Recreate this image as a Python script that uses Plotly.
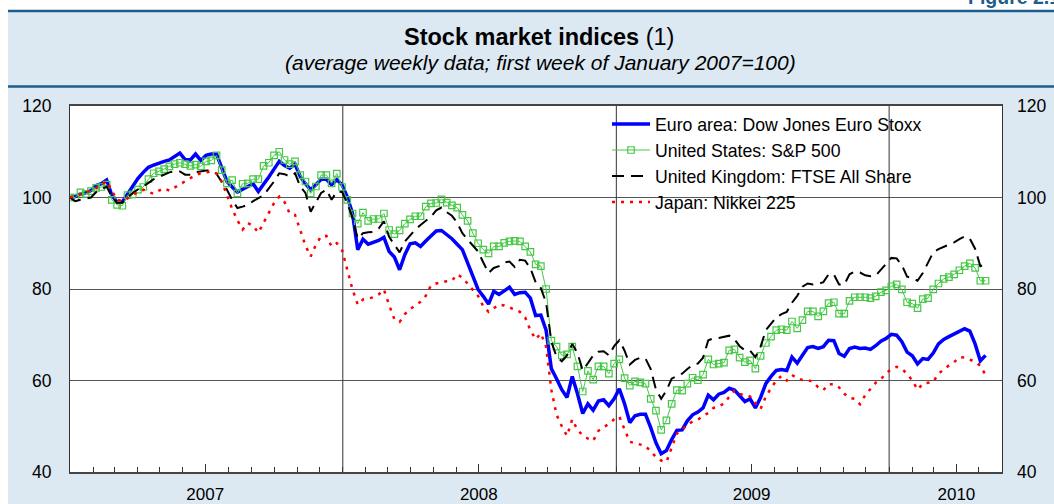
import pandas as pd
import plotly.graph_objects as go

# ---------------- data ----------------
start_date = "2007-01-01"   # first week of January 2007 = 100
n_weeks = 176

euro_stoxx = [
    100, 100.2, 100.8, 101, 101.5, 102.6, 103, 103.8, 100.5, 99,
    99, 100.8, 102.5, 104.2, 105.5, 106.6, 107.1, 107.6, 107.9, 108.2,
    108.9, 109.7, 108.3, 108.2, 109.5, 108.1, 109.2, 109.5, 109.5, 106.4,
    103.5, 102.3, 101.2, 101.8, 102.5, 103, 101.3, 102.8, 104.5, 106.2,
    107.9, 107, 106.4, 107.3, 104.6, 103, 101.7, 102.8, 104, 104,
    102.8, 103.9, 102.8, 100.1, 96.5, 88.6, 90.9, 89.8, 90.2, 90.6,
    91.3, 88.2, 87, 84.2, 87.5, 89.9, 90.1, 89.3, 90.5, 91.7,
    92.7, 92.8, 92, 91, 89.8, 88.6, 85.7, 82.8, 79.9, 78.4,
    76.7, 79.5, 78.8, 79.6, 80.4, 78.8, 79.2, 79.3, 78, 74.2,
    74.3, 71, 62.6, 60.4, 58, 56.3, 60.9, 57.1, 52.8, 54.9,
    53.5, 55.5, 55.8, 54.5, 56, 58.2, 54.9, 50.8, 52.3, 52.6,
    52.6, 49.7, 46.4, 44, 44.7, 47.1, 49.1, 49.2, 51.2, 52.5,
    53.1, 54, 56.8, 55.8, 57, 57.4, 58.3, 57.9, 56.5, 55.4,
    56, 54, 56.3, 59.3, 60.9, 62.2, 62.4, 62.2, 65.1, 63.8,
    65.5, 67.2, 67.4, 67, 67.4, 68.8, 68.7, 65.9, 65.3, 67,
    67.3, 67, 67.1, 66.8, 67.6, 68.6, 69.2, 70.1, 69.9, 68.5,
    66.2, 65.4, 63.6, 64.8, 64.6, 66, 68, 69, 69.6, 70.1,
    70.8, 71.3, 70.8, 68, 64.3, 65.5,
]

sp500 = [
    100, 100, 101.1, 100.8, 101.4, 102.1, 102.3, 102.8, 99.5, 98.4,
    98.2, 100.5, 100.7, 101.7, 102.3, 104, 105.3, 105.7, 106.2, 106.8,
    107.3, 107.6, 107.3, 106.9, 107.2, 106.8, 107.9, 108.1, 109.2, 106,
    103.1, 103.8, 100.9, 103, 103.1, 104, 104, 106.9, 107.6, 109.2,
    110, 108.2, 107.3, 107.9, 104.9, 103.5, 100.9, 102.4, 104.9, 104.9,
    103.1, 105.2, 102.3, 99.5, 96.5, 94.3, 96.7, 94.9, 95.3, 95.3,
    96.5, 92.9, 92, 92.8, 94.3, 95.2, 95.9, 95.9, 98, 98.7,
    98.8, 99.6, 98.9, 98.3, 97.8, 96.2, 94.9, 92.2, 90, 88.6,
    87.8, 89.3, 89.3, 90.1, 90.4, 90.5, 90.4, 89.3, 88.1, 85.4,
    85, 80, 68.7, 67.4, 65.5, 65.7, 67.4, 63.1, 57.6, 62.1,
    60.2, 63.1, 63.1, 61.5, 63.7, 64.6, 60.5, 58.9, 59.8, 59.6,
    59.3, 56, 53.4, 49.2, 51.3, 54.9, 57.9, 57.8, 59.3, 60.6,
    60.1, 61.3, 64.6, 63.5, 63.7, 63.9, 66.6, 66.8, 65, 64,
    64.4, 62.6, 65.4, 68.2, 69.6, 71, 71.2, 71, 72.9, 71.4,
    73.2, 75.1, 75.1, 74, 75.1, 76.9, 77.1, 74.6, 74.6, 77.4,
    78.2, 78.2, 78.2, 78, 78.4, 79.3, 79.7, 80.6, 81, 79.9,
    77.1, 76.8, 75.8, 77.8, 78, 79.9, 81.2, 82.2, 82.6, 83.2,
    84.1, 85, 85.6, 84.6, 81.8, 81.8,
]

ftse_all_share = [
    100, 99.2, 99.5, 99.8, 100, 101.2, 101.8, 102.4, 100.2, 98.8,
    98.9, 100, 101, 101.8, 102.4, 103.2, 104, 104.5, 105, 105.5,
    105.7, 105.7, 105, 105, 105.5, 105.7, 105.9, 105.9, 105.2, 103.4,
    101.7, 99.5, 97.7, 98, 98.4, 99.2, 99.9, 100.5, 102, 103.5,
    105.3, 105.1, 104.6, 105.3, 102.4, 101, 96.9, 98.8, 101, 101.7,
    99.5, 101.3, 101.2, 98.8, 95.5, 91, 92.2, 92.4, 92.5, 93.2,
    94.8, 91.4, 89.8, 88, 90.4, 91.8, 93, 94, 95, 95.8,
    97.2, 97.8, 96.8, 96, 94.5, 92.2, 90.8, 89.5, 88.2, 85.8,
    83.5, 84.6, 85, 85.8, 86, 84.8, 86.4, 86.2, 84.5, 81.5,
    80.2, 77, 68.5, 65.2, 64.2, 65.5, 68, 66, 62.2, 63.8,
    65.5, 66.3, 66.4, 65.5, 67.5, 68.8, 66.5, 63.5, 64.5, 65,
    64.8, 62.5, 58, 56, 57.8, 60.4, 61, 61.5, 62.5, 63.4,
    63.7, 65, 68.8, 69.2, 69.3, 69.6, 69.8, 69, 67.5, 66.6,
    66.5, 65.1, 67.4, 71, 72.4, 73.8, 74.5, 75, 77, 78.5,
    80.5, 81.2, 81, 81.1, 81.5, 83.2, 83.2, 81, 81, 83.2,
    83.8, 83.6, 83, 82.8, 82.9, 84.3, 85.5, 86.8, 86.7, 85.2,
    82.7, 82.4, 81.8, 83.5, 85.8, 88, 88.7, 89.2, 89.6, 90.2,
    90.9, 91.5, 91, 88.8, 85, 85.4,
]

nikkei_225 = [
    100, 100.3, 100.6, 101, 101.6, 102, 102.8, 103.6, 101.5, 99.5,
    99.2, 99.8, 100.6, 101.2, 101.7, 101.2, 100.8, 101.5, 102, 101.5,
    102.2, 102.8, 103.6, 104.2, 104.9, 105.3, 105.5, 105.7, 105.3, 103.5,
    100.5, 97.5, 95, 93, 94.4, 93.8, 92.3, 94.4, 96.5, 98.8,
    100.2, 99, 96.5, 96.2, 92.9, 89.5, 87.1, 89.7, 91.5, 91.6,
    89.3, 90, 88.5, 84.2, 79.9, 76.6, 77.7, 77.9, 78.2, 78.8,
    79.9, 76.5, 73.4, 72.8, 74.5, 75.6, 76.5, 77.2, 78.5, 80.8,
    81.2, 81.5, 81.7, 81.8, 83.2, 82.5, 81.2, 79.8, 78.5, 76.2,
    75, 75.8, 76.6, 76.4, 76, 75.5, 75, 73.8, 71, 69,
    70.3, 67.4, 58, 52.5, 50, 47.9, 51.5, 49.2, 48, 47.3,
    46.8, 49, 49.8, 50.5, 51.5, 52.1, 49.3, 46.6, 46.3, 46,
    45.7, 44.5, 43.3, 42.5, 42.2, 45.3, 48.4, 49.2, 50.4, 51,
    51.4, 52.3, 52.9, 54, 54.3, 55, 56.5, 57.8, 57, 56.9,
    56.5, 55, 53.8, 56.5, 58.3, 60, 61, 60, 61.2, 60.5,
    60.1, 60.1, 59.7, 58.5, 57.9, 59.2, 59.2, 58.5, 57.1, 56.2,
    56, 54.8, 56.8, 58.2, 59.5, 60.3, 61.6, 62.5, 63, 62.5,
    61.5, 60, 58, 59.3, 59.5, 59.7, 61.5, 62.5, 63.3, 64,
    65.1, 65, 64.6, 64.1, 63.2, 61.2,
]

series_names = [
    "Euro area: Dow Jones Euro Stoxx",
    "United States: S&P 500",
    "United Kingdom: FTSE All Share",
    "Japan: Nikkei 225",
]

year_tick_dates = ["2007-07-01", "2008-07-01", "2009-07-01", "2010-04-01"]
year_tick_labels = ["2007", "2008", "2009", "2010"]
year_boundaries = ["2008-01-01", "2009-01-01", "2010-01-01"]
y_ticks = [40, 60, 80, 100, 120]
x_range = ["2007-01-01", "2010-06-01"]
y_range = [40, 120]

title_text = "<b>Stock market indices</b> (1)"
subtitle_text = "<i>(average weekly data; first week of January 2007=100)</i>"
figure_label = "<b>Figure 2.1</b>"

dates = pd.date_range(start_date, periods=n_weeks, freq="7D")

# ---------------- figure ----------------
W, H = 1054, 504
ML, MR, MT, MB = 70, 52, 106, 32
PW, PH = W - ML - MR, H - MT - MB


def px_x(px):
    return (px - ML) / PW


def px_y(py):
    return (H - MB - py) / PH


FONT = "Liberation Sans, Arial, Helvetica, sans-serif"
LIGHT_BLUE = "#dce8f2"
DARK_BLUE = "#1d5d8c"

fig = go.Figure()

fig.add_trace(go.Scatter(
    x=dates, y=euro_stoxx, name=series_names[0], mode="lines",
    line=dict(color="#0000ff", width=3.5), legendgroup="a",
))
fig.add_trace(go.Scatter(
    x=dates, y=sp500, name=series_names[1], mode="lines+markers",
    line=dict(color="#46c846", width=1),
    marker=dict(symbol="square-open", size=6.5, color="#46c846", line=dict(width=1.2)),
    legendgroup="b",
))
fig.add_trace(go.Scatter(
    x=dates, y=ftse_all_share, name=series_names[2], mode="lines",
    line=dict(color="#000000", width=2, dash="12px,7px"), legendgroup="c",
))
fig.add_trace(go.Scatter(
    x=dates, y=nikkei_225, name=series_names[3], mode="lines",
    line=dict(color="#ff0000", width=2.5, dash="3px,6px"), legendgroup="d",
))
# invisible anchor so the right-hand axis is drawn
fig.add_trace(go.Scatter(
    x=[dates[0]], y=[euro_stoxx[0]], yaxis="y2", mode="markers",
    marker=dict(opacity=0), showlegend=False, hoverinfo="skip",
))

shapes = [
    # white strips outside the blue panel
    dict(type="rect", xref="paper", yref="paper", x0=px_x(0), x1=px_x(W),
         y0=px_y(10), y1=px_y(0), fillcolor="white", line_width=0, layer="below"),
    dict(type="rect", xref="paper", yref="paper", x0=px_x(0), x1=px_x(8),
         y0=px_y(H), y1=px_y(0), fillcolor="white", line_width=0, layer="below"),
    # dark rules of the title band
    dict(type="line", xref="paper", yref="paper", x0=px_x(8), x1=px_x(W),
         y0=px_y(11), y1=px_y(11), line=dict(color=DARK_BLUE, width=2.5), layer="below"),
    dict(type="line", xref="paper", yref="paper", x0=px_x(8), x1=px_x(W),
         y0=px_y(86.5), y1=px_y(86.5), line=dict(color=DARK_BLUE, width=2.5), layer="below"),
]
for d in year_boundaries:
    shapes.append(dict(type="line", xref="x", yref="y", x0=d, x1=d,
                       y0=y_range[0], y1=y_range[1],
                       line=dict(color="#333333", width=1), layer="between"))
# white area behind the legend (hides grid lines there)
shapes.append(dict(type="rect", xref="paper", yref="paper",
                   x0=px_x(574), x1=px_x(955), y0=px_y(212), y1=1,
                   fillcolor="white", line_width=0, layer="between"))

annotations = [
    dict(text=title_text, xref="paper", yref="paper", x=px_x(539), y=px_y(37),
         xanchor="center", yanchor="middle", showarrow=False,
         font=dict(family=FONT, size=23.5, color="#000000")),
    dict(text=subtitle_text, xref="paper", yref="paper", x=px_x(540), y=px_y(62),
         xanchor="center", yanchor="middle", showarrow=False,
         font=dict(family=FONT, size=21, color="#000000")),
    dict(text=figure_label, xref="paper", yref="paper", x=px_x(966), y=px_y(10),
         xanchor="left", yanchor="bottom", showarrow=False,
         font=dict(family=FONT, size=19.5, color=DARK_BLUE)),
]

fig.update_layout(
    width=W, height=H, autosize=False,
    margin=dict(l=ML, r=MR, t=MT, b=MB, pad=0, autoexpand=False),
    paper_bgcolor=LIGHT_BLUE,
    plot_bgcolor="white",
    font=dict(family=FONT, size=17, color="#000000"),
    showlegend=True,
    legend=dict(
        x=px_x(607), y=px_y(106), xanchor="left", yanchor="top",
        bgcolor="rgba(0,0,0,0)", borderwidth=0,
        font=dict(family=FONT, size=17.7, color="#000000"),
        itemwidth=38, tracegroupgap=0, traceorder="normal",
    ),
    xaxis=dict(
        type="date", range=x_range, automargin=False,
        tickvals=year_tick_dates, ticktext=year_tick_labels,
        ticks="inside", ticklen=8, tickwidth=1, tickcolor="#333333",
        minor=dict(tick0=start_date, dtick="M1", ticks="inside", ticklen=5,
                   tickwidth=1, tickcolor="#333333", showgrid=False),
        showgrid=False, zeroline=False,
        showline=True, linecolor="#444444", linewidth=1.5, mirror=True,
        ticklabelstandoff=6,
        tickfont=dict(family=FONT, size=17),
    ),
    yaxis=dict(
        range=y_range, tickvals=y_ticks, ticks="", automargin=False,
        showgrid=True, gridcolor="#555555", gridwidth=1, zeroline=False,
        showline=True, linecolor="#333333", linewidth=1, mirror=True,
        ticklabelstandoff=14,
        tickfont=dict(family=FONT, size=17.5),
    ),
    yaxis2=dict(
        range=y_range, tickvals=y_ticks, ticks="", overlaying="y", side="right",
        automargin=False,
        showgrid=False, zeroline=False, showline=False,
        ticklabelstandoff=14,
        tickfont=dict(family=FONT, size=17.5),
    ),
    shapes=shapes,
    annotations=annotations,
    hovermode=False,
)

fig.write_html(
    "out.html",
    config={"displayModeBar": False},
    post_script="document.body.style.margin='0px';document.body.style.overflow='hidden';",
)
